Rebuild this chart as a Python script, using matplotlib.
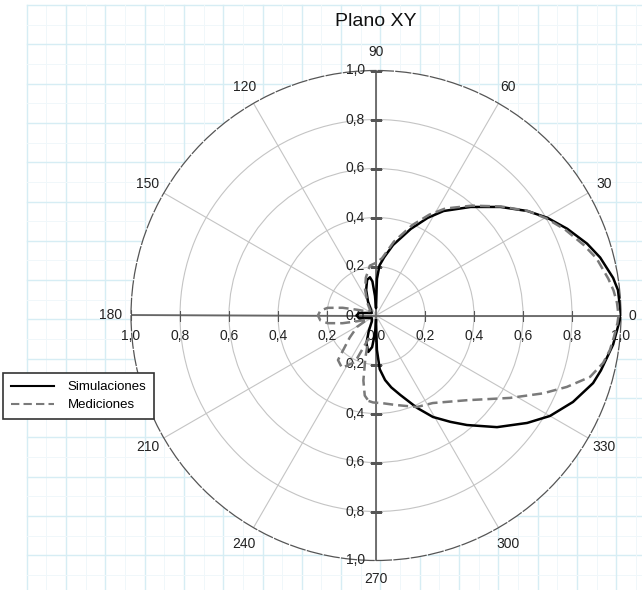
import numpy as np
import matplotlib
matplotlib.use('Agg')
import matplotlib.pyplot as plt
from matplotlib.lines import Line2D

plt.rcParams['font.family'] = ['Liberation Sans', 'DejaVu Sans']

# Simulaciones (angle in degrees, normalised radius)
sim_deg = [-90, -88.5, -86, -82, -78, -73, -66, -60.7, -55, -50.3, -42.7, -35.4,
           -30, -23.7, -17.3, -13.7, -7, 0, 6, 9, 14.5, 18.8, 24.4, 29.7, 34.6,
           41.1, 48.9, 57.1, 62.1, 68.1, 76.4, 82, 86, 88.5, 90, 93, 96, 99, 104,
           111, 120, 132, 150, 165, 172, 180, 188, 195, 210, 235, 245, 251, 258,
           263, 267, 270]
sim_r = [0.02, 0.14, 0.22, 0.266, 0.30, 0.339, 0.413, 0.475, 0.53, 0.581, 0.672,
         0.757, 0.82, 0.878, 0.928, 0.945, 0.975, 1.0, 0.993, 0.98, 0.945, 0.91,
         0.857, 0.805, 0.751, 0.674, 0.588, 0.508, 0.451, 0.381, 0.296, 0.24,
         0.205, 0.15, 0.03, 0.08, 0.14, 0.158, 0.15, 0.112, 0.065, 0.03, 0.02,
         0.04, 0.07, 0.08, 0.07, 0.04, 0.02, 0.03, 0.07, 0.12, 0.152, 0.13, 0.07,
         0.02]

# Mediciones
mea_deg = [-95, -92, -85, -78, -66, -57, -43, -31.6, -25, -20.5, -16, -11.8, -8.4,
           -5.2, -1.8, 0, 3, 6, 9, 14.5, 18.8, 24.4, 29.7, 34.6, 41.1, 48.9, 57.1,
           62.1, 68.1, 76.4, 84, 90, 97, 105, 113, 125, 140, 155, 163, 167, 171,
           175, 180, 185, 189, 193, 197, 205, 211, 220, 229.5, 237, 245.7, 250,
           252, 256, 259, 262, 265]
mea_r = [0.35, 0.355, 0.36, 0.373, 0.409, 0.426, 0.507, 0.642, 0.752, 0.832, 0.909,
         0.947, 0.965, 0.975, 0.986, 0.99, 0.985, 0.975, 0.96, 0.93, 0.895, 0.848,
         0.80, 0.752, 0.677, 0.595, 0.52, 0.466, 0.398, 0.31, 0.235, 0.215, 0.205,
         0.16, 0.114, 0.06, 0.03, 0.04, 0.08, 0.14, 0.2, 0.228, 0.237, 0.228, 0.2,
         0.14, 0.08, 0.04, 0.09, 0.14, 0.239, 0.255, 0.208, 0.12, 0.10, 0.18,
         0.27, 0.33, 0.35]

angle_ticks = [0, 30, 60, 90, 120, 150, 180, 210, 240, 270, 300, 330]
r_ticks = [0.2, 0.4, 0.6, 0.8, 1.0]
r_labels = ['0,2', '0,4', '0,6', '0,8', '1,0']

W, H = 642, 590
cx, cy, R = 376, 315.5, 245

fig = plt.figure(figsize=(W / 100, H / 100), dpi=100)

# graph paper behind the chart
bg = fig.add_axes([0, 0, 1, 1])
bg.set_xlim(0, W)
bg.set_ylim(H, 0)
bg.axis('off')
step, gx0, gy0 = 39.3, 26.7, 5
for k in range(20):
    x = gx0 + k * step
    if x < W:
        bg.plot([x, x], [gy0, H], color='#d6edf4', lw=1.0)
        bg.plot([x + step / 2] * 2, [gy0, H], color='#f0f7fa', lw=0.7)
    y = gy0 + k * step
    if y < H:
        bg.plot([gx0, W], [y, y], color='#d6edf4', lw=1.0)
        bg.plot([gx0, W], [y + step / 2] * 2, color='#f0f7fa', lw=0.7)

# polar chart
ax = fig.add_axes([(cx - R) / W, (H - cy - R) / H, 2 * R / W, 2 * R / H],
                  projection='polar')
ax.set_facecolor('white')
ax.set_ylim(0, 1)
ax.set_thetagrids(angle_ticks, labels=[''] * len(angle_ticks))
ax.set_rgrids([0.2, 0.4, 0.6, 0.8], labels=[''] * 4)
ax.grid(color='#c4c4c4', lw=0.8)
ax.spines['polar'].set_color('#555555')
ax.spines['polar'].set_linewidth(0.9)
ax.spines['polar'].set_linestyle((0, (12, 2)))
ax.tick_params(axis='x', length=4, color='#555555', direction='out')
ax.tick_params(axis='y', length=0)

# main axes through the centre
for a in [0, 90, 180, 270]:
    ax.plot([np.deg2rad(a)] * 2, [0, 1], color='#666666', lw=1.3, zorder=2.5)
for a in [0, 180]:
    ax.plot([np.deg2rad(a)] * len(r_ticks), r_ticks, ls='none', marker='|',
            ms=7, mew=0.8, color='#555555', zorder=2.6)
for a in [90, 270]:
    ax.plot([np.deg2rad(a)] * len(r_ticks), r_ticks, ls='none', marker='_',
            ms=9, mew=0.8, color='#555555', zorder=2.6)

# radius labels along the axes
fs = 10
for r, lab in zip(r_ticks, r_labels):
    for a in [0, 180]:
        ax.annotate(lab, (np.deg2rad(a), r), xytext=(0, -21), textcoords='offset pixels',
                    ha='center', va='center', fontsize=fs, color='#222222')
    for a in [90, 270]:
        ax.annotate(lab, (np.deg2rad(a), r), xytext=(-11, 0), textcoords='offset pixels',
                    ha='right', va='center', fontsize=fs, color='#222222')
ax.annotate('0,0', (0, 0), xytext=(0, -21), textcoords='offset pixels',
            ha='center', va='center', fontsize=fs, color='#222222')
ax.annotate('0,0', (0, 0), xytext=(-11, 0), textcoords='offset pixels',
            ha='right', va='center', fontsize=fs, color='#222222')

# angle labels
for a in angle_ticks:
    rr = 1.075
    if a == 0:
        rr = 1.045
    elif a == 180:
        rr = 1.085
    ax.text(np.deg2rad(a), rr, str(a), ha='center', va='center', fontsize=fs,
            color='#222222')

# curves
ax.plot(np.deg2rad(sim_deg), sim_r, color='black', lw=1.8, zorder=4)
ax.plot(np.deg2rad(mea_deg), mea_r, color='#7a7a7a', lw=1.8, ls=(0, (4, 2)), zorder=5)

fig.text(cx / W, 1 - 22 / H, 'Plano XY', ha='center', va='center', fontsize=14,
         color='#111111')

handles = [Line2D([], [], color='black', lw=1.5),
           Line2D([], [], color='#7a7a7a', lw=1.5, ls=(0, (4, 2)))]
leg = ax.legend(handles, ['Simulaciones', 'Mediciones'], loc='upper left',
                bbox_to_anchor=(3 / W, 1 - 373 / H), bbox_transform=fig.transFigure,
                frameon=True, fancybox=False, edgecolor='#333333', framealpha=1,
                borderaxespad=0, fontsize=9.5, handlelength=3.3, handletextpad=1.0,
                labelspacing=0.45, borderpad=0.6)
leg.get_frame().set_linewidth(1.2)
leg.set_zorder(10)

fig.savefig('out.png', dpi=100)
